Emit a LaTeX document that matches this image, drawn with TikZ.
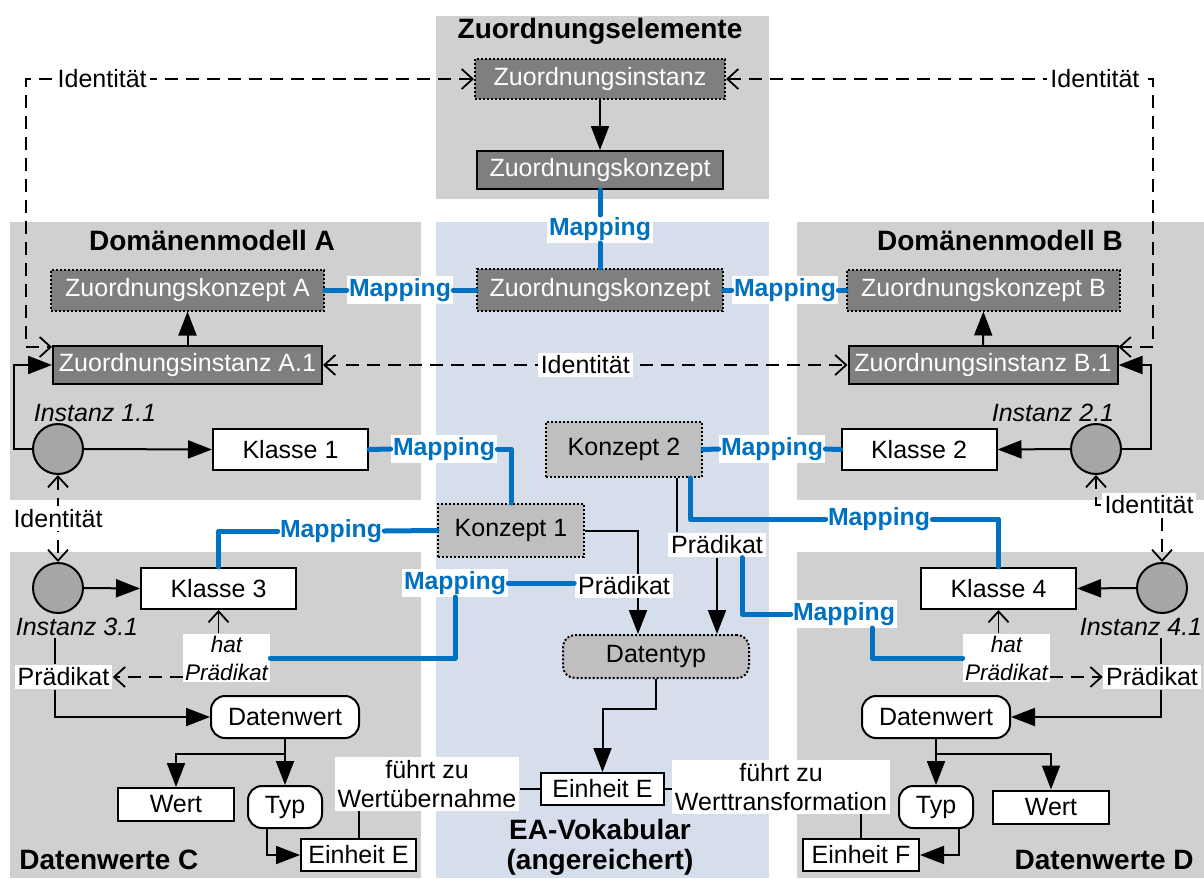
\documentclass[tikz,border=0pt]{standalone}
\usepackage{fontspec}
\setmainfont{Liberation Sans}
\usetikzlibrary{arrows.meta, positioning, calc}

\definecolor{panelgray}{HTML}{D0D0D0}
\definecolor{panelblue}{HTML}{D5DEEA}
\definecolor{darkfill}{HTML}{7F7F7F}
\definecolor{konzfill}{HTML}{BFBFBF}
\definecolor{instfill}{HTML}{A6A6A6}
\definecolor{mapblue}{HTML}{0070C0}

\begin{document}
\begin{tikzpicture}[x=0.5pt, y=-0.5pt,
	every node/.style={font=\fontsize{12.5}{14.5}\selectfont, inner sep=1pt},
	ttl/.style={font=\fontsize{14}{15}\selectfont\bfseries},
	zbox/.style={rectangle, draw, line width=1pt, fill=darkfill, text=white, minimum height=19pt},
	dotframe/.style={line width=1pt, dash pattern=on 1pt off 1pt},
	klasse/.style={rectangle, draw, line width=1pt, fill=white, minimum width=77.5pt, minimum height=20.5pt},
	konz/.style={rectangle, draw, fill=konzfill, dotframe},
	wbox/.style={rectangle, draw, line width=1pt, fill=white},
	rbox/.style={wbox, rounded corners=7pt},
	inst/.style={circle, draw, line width=1pt, fill=instfill, minimum size=25pt, inner sep=0pt},
	ilbl/.style={font=\fontsize{12.5}{14.5}\selectfont\itshape},
	hat/.style={fill=white, align=center, font=\fontsize{11.3}{14}\selectfont\itshape},
	lbl/.style={fill=white, inner sep=1.5pt},
	map/.style={fill=white, text=mapblue, font=\fontsize{12.4}{14}\selectfont\bfseries},
	con/.style={line width=1pt},
	arr/.style={line width=1pt, -{Triangle[length=12pt, width=9pt]}},
	mapline/.style={draw=mapblue, line width=2.5pt, line cap=round, line join=round},
	idline/.style={line width=0.9pt, dash pattern=on 6.5pt off 4pt, >={Straight Barb[length=5.5pt, width=10pt]}, <->},
	haslink/.style={line width=0.9pt, -{Straight Barb[length=5.5pt, width=10pt]}}
	]

\useasboundingbox (0,0) rectangle (1204,878);

% Bereiche
\fill[panelgray] (436,16) rectangle (769,199);
\fill[panelgray] (10,222) rectangle (421,500);
\fill[panelblue] (436,222) rectangle (769,878);
\fill[panelgray] (797,222) rectangle (1204,500);
\fill[panelgray] (10,552) rectangle (421,878);
\fill[panelgray] (797,552) rectangle (1204,878);

\node[ttl] (tZ) at (600,31) {Zuordnungselemente};
\node[ttl] (tA) at (212,240) {Domänenmodell A};
\node[ttl] (tB) at (1000,240) {Domänenmodell B};
\node[ttl, align=center] (tEA) at (600,847) {EA-Vokabular\\(angereichert)};
\node[ttl, anchor=west] (tC) at (17,860) {Datenwerte C};
\node[ttl, anchor=east] (tD) at (1196,860) {Datenwerte D};

% Zuordnung
\node[zbox, dotframe, minimum width=125pt, minimum height=20pt] (zInst) at (600,79) {Zuordnungsinstanz};
\node[zbox, minimum width=123pt] (zKon) at (600,170) {Zuordnungskonzept};
\node[zbox, dotframe, minimum width=123pt, minimum height=21pt] (zKonM) at (600,290) {Zuordnungskonzept};
\node[zbox, dotframe, minimum width=136.5pt, minimum height=20.5pt] (zKonA) at (187.5,290) {Zuordnungskonzept A};
\node[zbox, dotframe, minimum width=136.5pt, minimum height=20.5pt] (zKonB) at (983.5,290) {Zuordnungskonzept B};
\node[zbox, minimum width=134.5pt] (zInstA) at (187.5,365) {Zuordnungsinstanz A.1};
\node[zbox, minimum width=134.5pt] (zInstB) at (983,365) {Zuordnungsinstanz B.1};

\coordinate (cTL) at (26,79);
\coordinate (cTR) at (1153,79);

% Instanzen und Klassen
\node[inst] (c1) at (58,449) {};
\node[inst] (c2) at (1096,449) {};
\node[inst] (c3) at (58,588) {};
\node[inst] (c4) at (1162,588) {};
\node[ilbl] (i1) at (95,413) {Instanz 1.1};
\node[ilbl] (i2) at (1053,413) {Instanz 2.1};
\node[ilbl] (i3) at (77,627) {Instanz 3.1};
\node[ilbl] (i4) at (1141,627) {Instanz 4.1};
\node[klasse] (kl1) at (290.5,449.5) {Klasse 1};
\node[klasse] (kl2) at (919,449.5) {Klasse 2};
\node[klasse] (kl3) at (218.5,588.5) {Klasse 3};
\node[klasse] (kl4) at (998.5,588.5) {Klasse 4};

% Vokabular
\node[konz, minimum width=73pt, minimum height=26.5pt] (konz1) at (511,530.5) {Konzept 1};
\node[konz, minimum width=78pt, minimum height=27.5pt] (konz2) at (624,449.5) {Konzept 2};
\node[konz, rounded corners=6pt, minimum width=93pt, minimum height=21.5pt] (dt) at (656,656.5) {Datentyp};
\node[lbl] (pR) at (717,545) {Prädikat};
\node[wbox, minimum width=61.5pt, minimum height=16pt] (eM) at (602.5,789) {Einheit E};
\node[lbl, align=center] (fwC) at (427,784) {führt zu\\Wertübernahme};
\node[lbl, align=center] (fwD) at (781,787) {führt zu\\Werttransformation};

% Datenwerte
\node[hat] (hatC) at (226.5,658) {hat\\Prädikat};
\node[hat] (hatD) at (1006.5,658) {hat\\Prädikat};
\node[lbl] (pC) at (63.5,677) {Prädikat};
\node[lbl] (pD) at (1152,677) {Prädikat};
\node[rbox, minimum width=74pt, minimum height=21pt] (dwC) at (285,717) {Datenwert};
\node[rbox, minimum width=74pt, minimum height=21pt] (dwD) at (936,717) {Datenwert};
\node[wbox, minimum width=58pt, minimum height=16.5pt] (wC) at (176,804.5) {Wert};
\node[wbox, minimum width=58pt, minimum height=16.5pt] (wD) at (1051,807) {Wert};
\node[rbox, minimum width=37pt, minimum height=21pt] (tyC) at (285,807) {Typ};
\node[rbox, minimum width=37pt, minimum height=21pt] (tyD) at (936,807) {Typ};
\node[wbox, minimum width=57.5pt, minimum height=16pt] (eC) at (358.5,855) {Einheit E};
\node[wbox, minimum width=58pt, minimum height=16pt] (eF) at (861,855) {Einheit F};

% Mapping
\node[map] (m1) at (600,229) {Mapping};
\node[map] (m2) at (400,290) {Mapping};
\node[map] (m3) at (785,290) {Mapping};
\node[map] (m4) at (444,449) {Mapping};
\node[map] (m5) at (331,531) {Mapping};
\node[map] (m6) at (455,583) {Mapping};
\node[map] (m7) at (772,449) {Mapping};
\node[map] (m8) at (879,519) {Mapping};
\node[map] (m9) at (844,614) {Mapping};

\draw[arr] (zInst) -- (zKon);
\draw[arr] (zInstA) -- (zKonA);
\draw[arr] (zInstB) -- (zKonB);

\draw[idline] (zInst.west) -- node[lbl, pos=.83] (idTL) {Identität} (cTL) |- ([yshift=-1pt]zInstA.north west);
\draw[idline] (zInst.east) -- node[lbl, pos=.864] (idTR) {Identität} (cTR) |- ([yshift=-1pt]zInstB.north east);
\draw[idline] (zInstA.east) -- node[lbl] (idM) {Identität} (zInstB.west);
\draw[idline] (c1.south) -- node[lbl] (idL) {Identität} (c3.north);
\node[lbl] (idR) at (1149,505) {Identität};
\draw[idline, ->] (idR.west) -| (c2.south);
\draw[idline, ->] (c4.north |- idR.south) -- (c4.north);

\draw[arr] (c1.west) -- ++(-18,0) |- (zInstA.west);
\draw[arr] (c2.east) -- ++(29,0) |- (zInstB.east);
\draw[arr] (c1.east) -- (kl1.west);
\draw[arr] (c2.west) -- (kl2.east);
\draw[arr] (c3.east) -- (kl3.west);
\draw[arr] (c4.west) -- (kl4.east);

\draw[con] ([xshift=-4.25pt]pC.north) -- ([xshift=-4.25pt]pC.north |- i3.south);
\draw[con] ([xshift=4.5pt]pD.north) -- ([xshift=4.5pt]pD.north |- i4.south);
\draw[arr] ([xshift=-4.25pt]pC.south) |- (dwC.west);
\draw[arr] ([xshift=4.5pt]pD.south) |- (dwD.east);
\draw[idline, ->] (pC.east -| hatC.west) -- (pC.east);
\draw[idline, ->] (pD.west -| hatD.east) -- (pD.west);
\draw[haslink] (hatC.north -| kl3.south) -- (kl3.south);
\draw[haslink] (hatD.north -| kl4.south) -- (kl4.south);

\coordinate (sC) at ($(dwC.south)+(0,15)$);
\coordinate (sD) at ($(dwD.south)+(0,15)$);
\draw[arr] (dwC.south) -- (tyC.north);
\draw[arr] (sC) -| (wC.north);
\draw[arr] (dwD.south) -- (tyD.north);
\draw[arr] (sD) -| (wD.north);
\draw[arr] ([xshift=-9pt]tyC.south) |- (eC.west);
\draw[arr] ([xshift=11.5pt]tyD.south) |- (eF.east);
\draw[con] (eC.north) -- (eC.north |- fwC.south);
\draw[con] (eF.north) -- (eF.north |- fwD.south);
\draw[con] (eM.west) -- (eM.west -| fwC.east);
\draw[con] (eM.east) -- (eM.east -| fwD.west);

\draw[arr] (konz1.east) -| node[lbl, pos=.767, xshift=-7pt] (pL) {Prädikat} ([xshift=-9pt]dt.north);
\draw[con] ([xshift=26.5pt]konz2.south) -- ([xshift=26.5pt]konz2.south |- pR.north);
\draw[arr] (pR.south) -- (pR.south |- dt.north);
\draw[arr] (dt.south) -- ++(0,30) -| (eM.north);

\draw[mapline] (zKon.south) -- (m1.north);
\draw[mapline] (m1.south) -- (zKonM.north);
\draw[mapline] (zKonA.east) -- (m2.west);
\draw[mapline] (m2.east) -- (zKonM.west);
\draw[mapline] (zKonM.east) -- (m3.west);
\draw[mapline] (m3.east) -- (zKonB.west);
\draw[mapline] (kl1.east) -- (m4.west);
\draw[mapline] (m4.east) -| (konz1.north);
\draw[mapline] (konz1.west) -- (m5.east);
\draw[mapline] (m5.west) -| (kl3.north);
\draw[mapline] (hatC.east) -| (m6.south);
\draw[mapline] (m6.east) -- (m6.east -| pL.west);
\draw[mapline] (konz2.east) -- (m7.west);
\draw[mapline] (m7.east) -- (kl2.west);
\draw[mapline] ([xshift=33pt]konz2.south) |- (m8.west);
\draw[mapline] (m8.east) -| (kl4.north);
\draw[mapline] ([xshift=12.5pt]pR.south) |- (m9.west);
\draw[mapline] ([xshift=14pt]m9.south) |- (hatD.west);

\end{tikzpicture}
\end{document}
